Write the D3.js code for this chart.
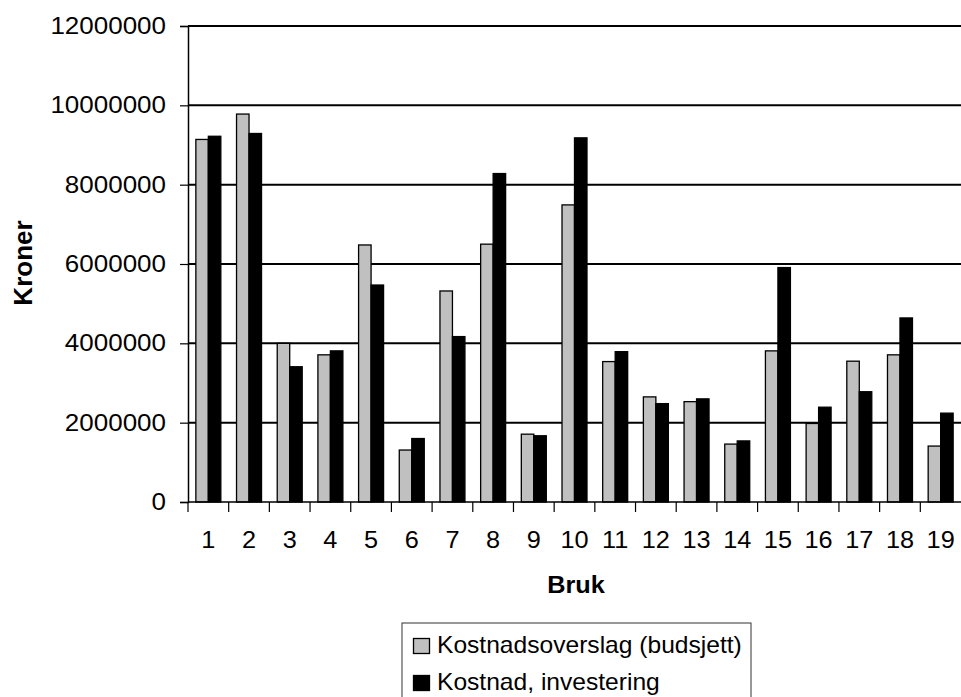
<!DOCTYPE html>
<html>
<head>
<meta charset="utf-8">
<script src="https://cdn.jsdelivr.net/npm/d3@7"></script>
<style>
  html, body { margin: 0; padding: 0; background: #fff; }
  svg { display: block; font-family: "Liberation Sans", Arial, sans-serif; }
</style>
</head>
<body>
<svg id="chart" width="961" height="697"></svg>
<script>
const categories = ["1","2","3","4","5","6","7","8","9","10","11","12","13","14","15","16","17","18","19"];
const seriesNames = ["Kostnadsoverslag (budsjett)", "Kostnad, investering"];
const budget = [9140000, 9780000, 4000000, 3710000, 6480000, 1310000, 5320000, 6500000, 1710000, 7490000,
                3540000, 2650000, 2530000, 1460000, 3810000, 1980000, 3550000, 3710000, 1410000];
const invest = [9220000, 9290000, 3410000, 3810000, 5470000, 1600000, 4170000, 8280000, 1670000, 9180000,
                3790000, 2480000, 2600000, 1540000, 5910000, 2390000, 2780000, 4640000, 2240000];
const yTicks = [0, 2000000, 4000000, 6000000, 8000000, 10000000, 12000000];
const colors = ["#C0C0C0", "#000000"];

(function () {
const svg = d3.select("#chart");
const pL = 188, pR = 961, pT = 26, pB = 502;

const x = d3.scaleBand().domain(categories).range([pL, pR]).paddingInner(0.386).paddingOuter(0.193);
const xCat = d3.scaleBand().domain(categories).range([pL, pR]).padding(0);
const xs = d3.scaleBand().domain([0, 1]).range([0, x.bandwidth()]).padding(0);
const y = d3.scaleLinear().domain([0, 12000000]).range([pB, pT]);

// gridlines
svg.append("g").selectAll("line").data(yTicks.filter(d => d > 0)).join("line")
  .attr("x1", pL).attr("x2", pR)
  .attr("y1", d => y(d)).attr("y2", d => y(d))
  .attr("stroke", "#000").attr("stroke-width", 2);

// bars
const data = categories.map((c, i) => ({ c, vals: [budget[i], invest[i]] }));
const groups = svg.append("g").selectAll("g").data(data).join("g")
  .attr("transform", d => `translate(${x(d.c)},0)`);
groups.selectAll("rect").data(d => d.vals.map((v, k) => ({ v, k }))).join("rect")
  .attr("x", d => xs(d.k))
  .attr("width", xs.bandwidth())
  .attr("y", d => y(d.v))
  .attr("height", d => y(0) - y(d.v))
  .attr("fill", d => colors[d.k])
  .attr("stroke", "#000").attr("stroke-width", 1.3);

// y axis
const yAxis = svg.append("g").attr("transform", `translate(${pL},0)`)
  .call(d3.axisLeft(y).tickValues(yTicks).tickFormat(d3.format("d")).tickSizeOuter(0).tickSize(8).tickPadding(14));
yAxis.select(".domain").attr("stroke", "#000").attr("stroke-width", 1.5);
yAxis.selectAll(".tick line").attr("stroke", "#000").attr("stroke-width", 1.2);
yAxis.selectAll(".tick text")
  .attr("font-size", 23).attr("fill", "#000")
  .attr("font-family", "Liberation Sans, Arial, sans-serif")
  .attr("transform", "translate(-22,0) scale(1.13,1) translate(22,0)");

// x axis: ticks at category boundaries
const xAxisG = svg.append("g");
xAxisG.append("line").attr("x1", pL).attr("x2", pR).attr("y1", pB).attr("y2", pB)
  .attr("stroke", "#000").attr("stroke-width", 1.5);
xAxisG.selectAll("line.tk").data(categories).join("line").attr("class", "tk")
  .attr("x1", d => xCat(d)).attr("x2", d => xCat(d))
  .attr("y1", pB).attr("y2", pB + 10)
  .attr("stroke", "#000").attr("stroke-width", 1.2);
xAxisG.selectAll("text").data(categories).join("text")
  .attr("transform", d => `translate(${xCat(d) + xCat.bandwidth() / 2},548) scale(1.1,1)`)
  .attr("text-anchor", "middle").attr("font-size", 23).attr("fill", "#000")
  .text(d => d);

// axis titles
svg.append("text")
  .attr("transform", "translate(576,593) scale(1.1,1)")
  .attr("text-anchor", "middle").attr("font-size", 23).attr("font-weight", "bold")
  .text("Bruk");
svg.append("text")
  .attr("transform", "translate(32,263) rotate(-90)")
  .attr("text-anchor", "middle").attr("font-size", 26).attr("font-weight", "bold")
  .text("Kroner");

// legend
const lg = svg.append("g");
lg.append("rect").attr("x", 402).attr("y", 623).attr("width", 349).attr("height", 120)
  .attr("fill", "#fff").attr("stroke", "#333").attr("stroke-width", 1);
const rows = lg.selectAll("g.row").data(seriesNames).join("g").attr("class", "row")
  .attr("transform", (d, i) => `translate(413,${638 + i * 37})`);
rows.append("rect").attr("x", 0.5).attr("y", 0.5).attr("width", 16).attr("height", 15)
  .attr("fill", (d, i) => colors[i]).attr("stroke", "#000").attr("stroke-width", 1.3);
rows.append("text")
  .attr("transform", "translate(24,15) scale(1.07,1)")
  .attr("font-size", 23).attr("fill", "#000")
  .text(d => d);
})();
</script>
</body>
</html>
